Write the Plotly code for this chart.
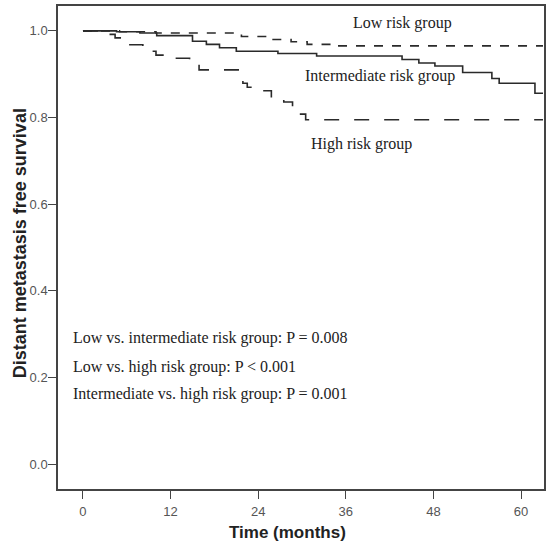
import plotly.graph_objects as go

# Kaplan-Meier step data (months, survival)
low_t = [0, 5.0, 10.0, 21.7, 25.8, 28.5, 30.7, 34.6, 63.0]
low_s = [1.0, 0.998, 0.995, 0.987, 0.980, 0.975, 0.969, 0.9655, 0.9655]

int_t = [0, 4.6, 7.8, 10.1, 15.0, 16.9, 18.7, 21.0, 26.7, 32.0, 43.7, 46.0, 48.2, 52.0, 56.0, 57.0, 61.9, 63.0]
int_s = [1.0, 0.998, 0.995, 0.989, 0.976, 0.969, 0.961, 0.953, 0.948, 0.942, 0.934, 0.926, 0.919, 0.904, 0.890, 0.879, 0.856, 0.856]

high_t = [0, 3.0, 4.4, 5.7, 8.2, 8.9, 10.0, 12.8, 14.6, 15.9, 21.9, 22.5, 24.0, 25.8, 27.5, 28.7, 29.5, 30.5, 63.0]
high_s = [1.0, 0.992, 0.984, 0.968, 0.959, 0.953, 0.944, 0.937, 0.929, 0.910, 0.879, 0.870, 0.862, 0.846, 0.836, 0.818, 0.808, 0.795, 0.795]

x_ticks = [0, 12, 24, 36, 48, 60]
y_ticks = [0.0, 0.2, 0.4, 0.6, 0.8, 1.0]
y_tick_labels = ["0.0", "0.2", "0.4", "0.6", "0.8", "1.0"]

group_labels = ["Low risk group", "Intermediate risk group", "High risk group"]
p_texts = [
    "Low vs. intermediate risk group: P = 0.008",
    "Low vs. high risk group: P < 0.001",
    "Intermediate vs. high risk group: P = 0.001",
]

line_col = "#2a2a2a"
fig = go.Figure()
fig.add_trace(go.Scatter(x=low_t, y=low_s, mode="lines", line_shape="hv",
                         line=dict(color=line_col, width=1.6, dash="dash"), name=group_labels[0]))
fig.add_trace(go.Scatter(x=int_t, y=int_s, mode="lines", line_shape="hv",
                         line=dict(color=line_col, width=1.6, dash="solid"), name=group_labels[1]))
fig.add_trace(go.Scatter(x=high_t, y=high_s, mode="lines", line_shape="hv",
                         line=dict(color=line_col, width=1.6, dash="longdash"), name=group_labels[2]))

serif = "Liberation Serif, Times New Roman, serif"
ann = []
ann.append(dict(x=43.7, y=1.018, text=group_labels[0], xanchor="center", yanchor="middle"))
ann.append(dict(x=40.7, y=0.897, text=group_labels[1], xanchor="center", yanchor="middle"))
ann.append(dict(x=38.1, y=0.738, text=group_labels[2], xanchor="center", yanchor="middle"))
for txt, yv in zip(p_texts, [0.29, 0.225, 0.161]):
    ann.append(dict(x=-1.62, y=yv, text=txt, xanchor="left", yanchor="middle"))
for a in ann:
    a.update(xref="x", yref="y", showarrow=False,
             font=dict(family=serif, size=16, color="#222"))

# axis titles as annotations
ann.append(dict(x=0.472, y=-0.0907, xref="paper", yref="paper", text="<b>Time (months)</b>",
                showarrow=False, xanchor="center", yanchor="middle",
                font=dict(family="Liberation Sans, Arial", size=17, color="#222")))
ann.append(dict(x=-0.078, y=0.509, xref="paper", yref="paper", text="<b>Distant metastasis free survival</b>",
                showarrow=False, xanchor="center", yanchor="middle", textangle=-90,
                font=dict(family="Liberation Sans, Arial", size=18, color="#222")))

axis_common = dict(showgrid=False, zeroline=False, showline=True, linecolor="#444", linewidth=1.5,
                   mirror=True, ticks="outside", ticklen=8, tickwidth=1.2, tickcolor="#444",
                   tickfont=dict(family="Liberation Sans, Arial", size=13, color="#555"))

fig.update_layout(
    width=550, height=549,
    margin=dict(l=58, r=5, t=4, b=60),
    plot_bgcolor="white", paper_bgcolor="white",
    showlegend=False,
    xaxis=dict(range=[-3.42, 63.14], tickvals=x_ticks, **axis_common),
    yaxis=dict(range=[-0.0575, 1.0575], tickvals=y_ticks, ticktext=y_tick_labels, **axis_common),
    annotations=ann,
)
fig.update_yaxes(ticklabelstandoff=-2)
fig.update_xaxes(ticklabelstandoff=2)

fig.write_html("out.html", config={"displayModeBar": False},
               post_script="document.body.style.margin='0px';document.body.style.overflow='hidden';")
